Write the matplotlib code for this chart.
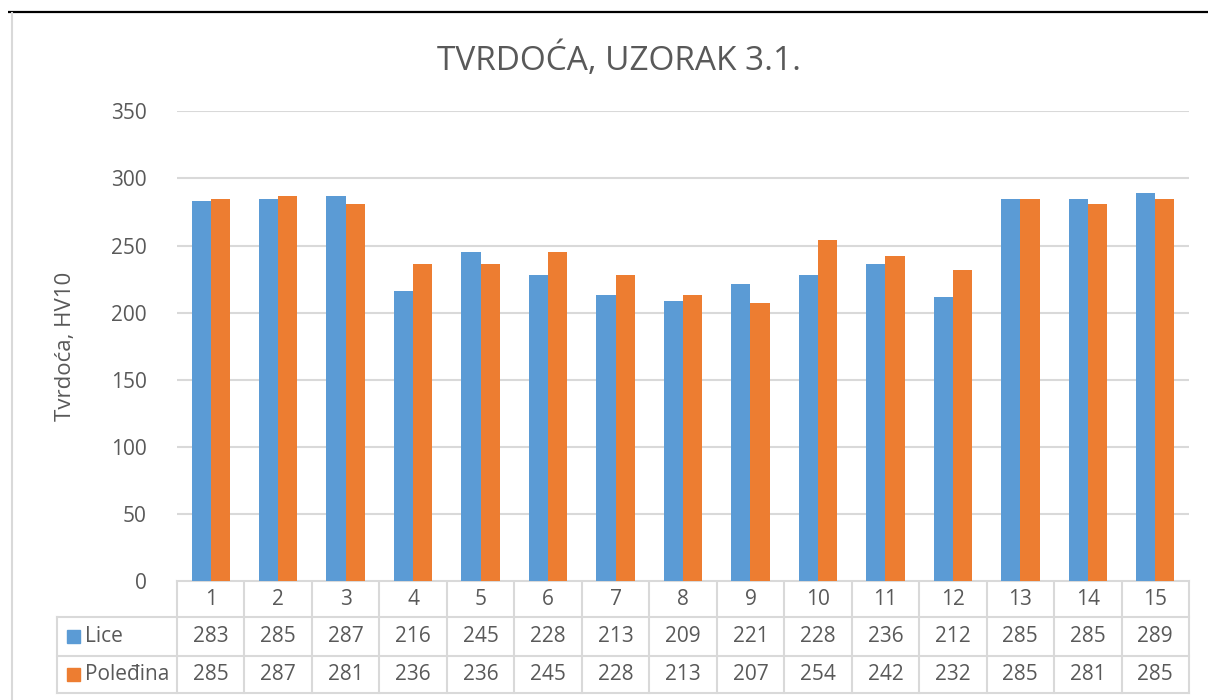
import matplotlib
matplotlib.use("Agg")
import matplotlib.pyplot as plt
import numpy as np

plt.rcParams['font.family'] = ['Open Sans', 'DejaVu Sans']

# Data
categories = [str(i) for i in range(1, 16)]
lice = [283, 285, 287, 216, 245, 228, 213, 209, 221, 228, 236, 212, 285, 285, 289]
poledina = [285, 287, 281, 236, 236, 245, 228, 213, 207, 254, 242, 232, 285, 281, 285]
series_names = ["Lice", "Poleđina"]

title = "TVRDOĆA, UZORAK 3.1."
ylabel = "Tvrdoća, HV10"
yticks = [0, 50, 100, 150, 200, 250, 300, 350]

BLUE = "#5B9BD5"
ORANGE = "#ED7D31"
TXT = "#595959"
GRID = "#D9D9D9"

W, H = 1208, 700
fig = plt.figure(figsize=(W / 100, H / 100), dpi=100)

# plot area in pixel coordinates
px_left, px_right = 177, 1189
px_top, px_bottom = 111.4, 581
ax = fig.add_axes([px_left / W, 1 - px_bottom / H,
                   (px_right - px_left) / W, (px_bottom - px_top) / H])

n = len(categories)
x = np.arange(n)
bw = 0.285
ax.bar(x - bw / 2, lice, width=bw, color=BLUE, zorder=3)
ax.bar(x + bw / 2, poledina, width=bw, color=ORANGE, zorder=3)
ax.set_xlim(-0.5, n - 0.5)
ax.set_ylim(0, 350)
ax.set_yticks(yticks)
ax.set_yticklabels([str(v) for v in yticks], fontsize=15, color=TXT)
ax.tick_params(axis='y', length=0, pad=22)
ax.set_xticks([])
ax.grid(axis='y', color=GRID, linewidth=1.5, zorder=0)
for s in ax.spines.values():
    s.set_visible(False)

# overlay in pixel coordinates for title, label, table and frame
ov = fig.add_axes([0, 0, 1, 1], zorder=-1)
ov.set_xlim(0, W)
ov.set_ylim(H, 0)
ov.axis('off')

ov.text(619, 60, title, ha='center', va='center', fontsize=24, color=TXT)
ov.text(66, 346, ylabel, ha='center', va='center', rotation=90, fontsize=16, color=TXT)

# chart frame
ov.plot([8, W], [11.5, 11.5], color='black', linewidth=1.6, solid_capstyle='butt')
ov.plot([12, 12], [12.5, H], color=GRID, linewidth=1.5)

# data table
rows_y = [581, 617.3, 655.7, 693.3]
col_w = (px_right - px_left) / n
left_col = 57
lw = 1.5
# horizontal lines
ov.plot([px_left, px_right], [rows_y[0]] * 2, color=GRID, lw=lw)
for yy in rows_y[1:]:
    ov.plot([left_col, px_right], [yy] * 2, color=GRID, lw=lw)
# vertical lines
for k in range(n + 1):
    xx = px_left + k * col_w
    ov.plot([xx, xx], [rows_y[0], rows_y[3]], color=GRID, lw=lw)
ov.plot([left_col, left_col], [rows_y[1], rows_y[3]], color=GRID, lw=lw)

fs = 15
for k, c in enumerate(categories):
    cx = px_left + (k + 0.5) * col_w
    ov.text(cx, (rows_y[0] + rows_y[1]) / 2, c, ha='center', va='center', fontsize=fs, color=TXT)
    ov.text(cx, (rows_y[1] + rows_y[2]) / 2, str(lice[k]), ha='center', va='center', fontsize=fs, color=TXT)
    ov.text(cx, (rows_y[2] + rows_y[3]) / 2, str(poledina[k]), ha='center', va='center', fontsize=fs, color=TXT)

for r, (name, col) in enumerate(zip(series_names, [BLUE, ORANGE])):
    cy = (rows_y[r + 1] + rows_y[r + 2]) / 2
    ov.add_patch(plt.Rectangle((66.5, cy - 6.5), 13, 13, color=col))
    ov.text(85, cy, name, ha='left', va='center', fontsize=fs, color=TXT)

fig.savefig("out.png", dpi=100)
